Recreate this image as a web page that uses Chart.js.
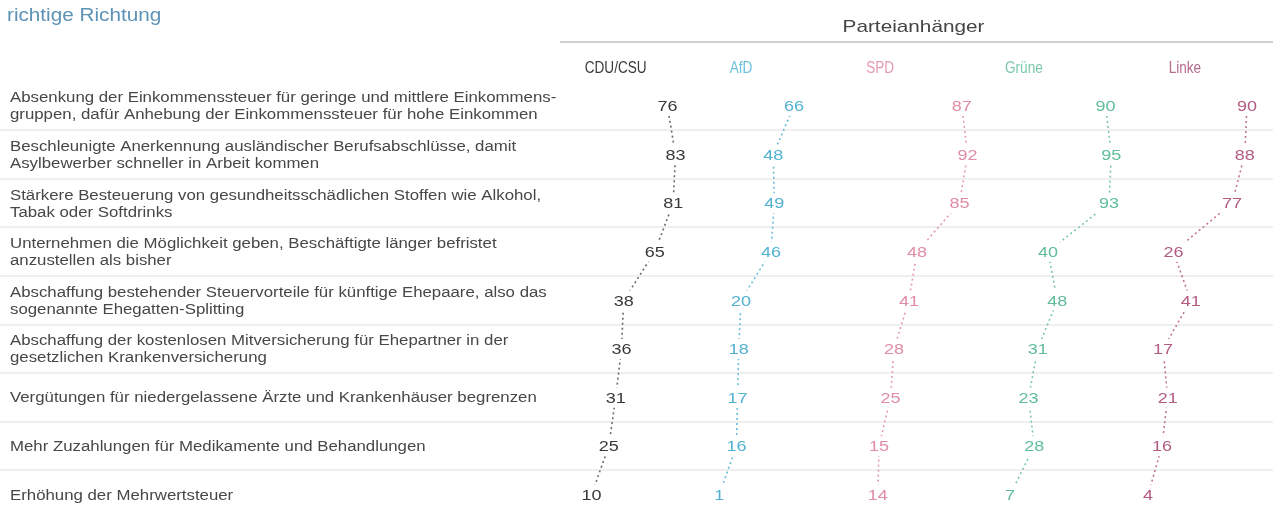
<!DOCTYPE html>
<html><head><meta charset="utf-8">
<script src="https://cdn.jsdelivr.net/npm/chart.js@4"></script>
<style>html,body{margin:0;padding:0;background:#fff;overflow:hidden}</style>
</head><body>
<canvas id="c" width="1273" height="508"></canvas>
<script>
// ---- data ----
const titleText = 'richtige Richtung';
const groupTitle = 'Parteianhänger';
const categories = [
  ['Absenkung der Einkommenssteuer für geringe und mittlere Einkommens-', 'gruppen, dafür Anhebung der Einkommenssteuer für hohe Einkommen'],
  ['Beschleunigte Anerkennung ausländischer Berufsabschlüsse, damit', 'Asylbewerber schneller in Arbeit kommen'],
  ['Stärkere Besteuerung von gesundheitsschädlichen Stoffen wie Alkohol,', 'Tabak oder Softdrinks'],
  ['Unternehmen die Möglichkeit geben, Beschäftigte länger befristet', 'anzustellen als bisher'],
  ['Abschaffung bestehender Steuervorteile für künftige Ehepaare, also das', 'sogenannte Ehegatten-Splitting'],
  ['Abschaffung der kostenlosen Mitversicherung für Ehepartner in der', 'gesetzlichen Krankenversicherung'],
  ['Vergütungen für niedergelassene Ärzte und Krankenhäuser begrenzen'],
  ['Mehr Zuzahlungen für Medikamente und Behandlungen'],
  ['Erhöhung der Mehrwertsteuer']
];
const parties = ['CDU/CSU', 'AfD', 'SPD', 'Grüne', 'Linke'];
const cduValues    = [76, 83, 81, 65, 38, 36, 31, 25, 10];
const afdValues    = [66, 48, 49, 46, 20, 18, 17, 16, 1];
const spdValues    = [87, 92, 85, 48, 41, 28, 25, 15, 14];
const grueneValues = [90, 95, 93, 40, 48, 31, 23, 28, 7];
const linkeValues  = [90, 88, 77, 26, 41, 17, 21, 16, 4];
const seriesValues = [cduValues, afdValues, spdValues, grueneValues, linkeValues];

// ---- layout / style ----
const COL_OFFSET = [0, 120, 245, 367, 490];        // x-axis units per column start
const HEADER_POS = [31, 140, 261, 386, 526];       // x-axis units of header centres
const GROUP_POS = 290;
const STRETCH = 1.2;
const FONT = '"Liberation Sans", Arial, sans-serif';
const lineColors  = ['#6a6a6a', '#6bbcd7', '#e59caf', '#7ac6a8', '#bf7595'];
const textColors  = ['#383838', '#52b1d1', '#df8ca4', '#5fbd99', '#b35c82'];
const headColors  = ['#3a3a3a', '#6cc0dc', '#e59ab0', '#7cc8aa', '#b66a8c'];

const datasets = seriesValues.map((vals, p) => ({
  label: parties[p],
  data: vals.map((v, i) => ({x: COL_OFFSET[p] + v, y: i, v: v})),
  borderColor: lineColors[p],
  borderWidth: 1.6,
  borderDash: [2, 3],
  pointRadius: 0,
  fill: false,
  tension: 0
}));

function sText(ctx, t, x, y, sx, align) {
  ctx.save();
  ctx.translate(x, y);
  ctx.scale(sx, 1);
  ctx.textAlign = align;
  ctx.fillText(t, 0, 0);
  ctx.restore();
}

const decor = {
  id: 'decor',
  beforeDatasetsDraw(chart) {
    const ctx = chart.ctx, y = chart.scales.y, x = chart.scales.x;
    ctx.save();
    ctx.textBaseline = 'middle';
    // row separators
    ctx.strokeStyle = '#efefef';
    ctx.lineWidth = 2;
    for (let i = 0; i < categories.length - 1; i++) {
      const yy = Math.round(y.getPixelForValue(i + 0.5));
      ctx.beginPath(); ctx.moveTo(0, yy); ctx.lineTo(chart.width, yy); ctx.stroke();
    }
    // title
    ctx.fillStyle = '#5d93b5';
    ctx.font = '18px ' + FONT;
    sText(ctx, titleText, 7, 16, 1.15, 'left');
    // group header
    ctx.fillStyle = '#444';
    ctx.font = '17px ' + FONT;
    sText(ctx, groupTitle, x.getPixelForValue(GROUP_POS), 27, 1.22, 'center');
    ctx.strokeStyle = '#cfcfcf'; ctx.lineWidth = 2;
    ctx.beginPath(); ctx.moveTo(chart.chartArea.left, 42); ctx.lineTo(chart.width, 42); ctx.stroke();
    // party headers
    ctx.font = '16px ' + FONT;
    parties.forEach((p, i) => {
      ctx.fillStyle = headColors[i];
      sText(ctx, p, x.getPixelForValue(HEADER_POS[i]), 69, 0.85, 'center');
    });
    // row labels
    ctx.fillStyle = '#474747';
    ctx.font = '14px ' + FONT;
    categories.forEach((lines, i) => {
      const cy = y.getPixelForValue(i);
      const lh = 17;
      const start = cy - (lines.length - 1) * lh / 2;
      lines.forEach((t, k) => sText(ctx, t, 10, start + k * lh + 1, STRETCH, 'left'));
    });
    ctx.restore();
  },
  afterDatasetsDraw(chart) {
    const ctx = chart.ctx;
    ctx.save();
    ctx.font = '15px ' + FONT;
    ctx.textBaseline = 'middle';
    chart.data.datasets.forEach((ds, p) => {
      const meta = chart.getDatasetMeta(p);
      meta.data.forEach((pt, i) => {
        const t = String(ds.data[i].v);
        const w = ctx.measureText(t).width * STRETCH;
        ctx.fillStyle = '#ffffff';
        ctx.fillRect(pt.x - w / 2 - 2, pt.y - 10, w + 4, 20);
        ctx.fillStyle = textColors[p];
        sText(ctx, t, pt.x, pt.y + 1, STRETCH, 'center');
      });
    });
    ctx.restore();
  }
};

new Chart(document.getElementById('c'), {
  type: 'line',
  data: { datasets },
  options: {
    responsive: false,
    devicePixelRatio: 1,
    animation: false,
    layout: { padding: { left: 560, right: 0, top: 0, bottom: 0 } },
    plugins: { legend: { display: false }, tooltip: { enabled: false }, title: { display: false } },
    scales: {
      x: { type: 'linear', min: -17.4, max: 602.6, display: false },
      y: { type: 'linear', reverse: true, min: -2.181, max: 8.272, display: false }
    }
  },
  plugins: [decor]
});
</script>
</body></html>
